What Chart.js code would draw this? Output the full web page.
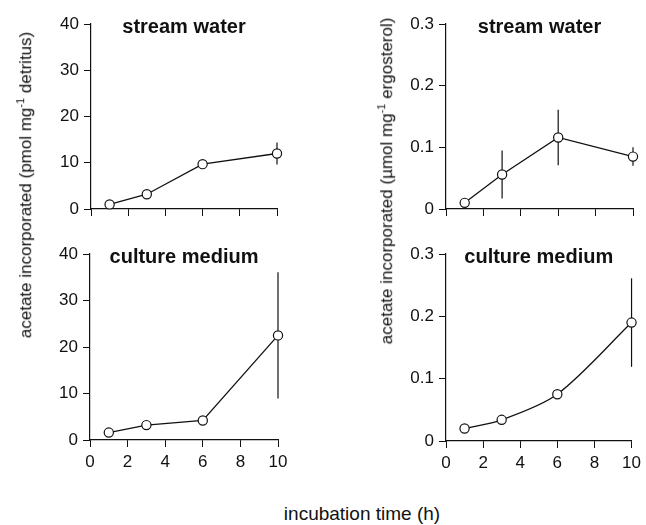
<!DOCTYPE html>
<html>
<head>
<meta charset="utf-8">
<script src="https://cdn.jsdelivr.net/npm/chart.js@4.4.1/dist/chart.umd.min.js"></script>
<style>
body { margin: 0; background: #fff; width: 646px; height: 525px; position: relative; overflow: hidden;
       font-family: "Liberation Sans", Arial, sans-serif; color: #111; }
canvas { position: absolute; }
.lbl { position: absolute; white-space: nowrap; transform: translate(-50%, -50%); z-index: 2; }
.rot { transform: translate(-50%, -50%) rotate(-90deg); }
sup { font-size: 11px; }
</style>
</head>
<body>
<canvas id="tl" width="300" height="230" style="left:0;top:0"></canvas>
<canvas id="tr" width="316" height="230" style="left:330px;top:0"></canvas>
<canvas id="bl" width="300" height="250" style="left:0;top:230px"></canvas>
<canvas id="br" width="316" height="250" style="left:330px;top:230px"></canvas>

<div class="lbl rot" style="left:25px;top:185px;font-size:17px">acetate incorporated (pmol mg<sup>-1</sup> detritus)</div>
<div class="lbl rot" style="left:386px;top:181px;font-size:17px">acetate incorporated (µmol mg<sup>-1</sup> ergosterol)</div>
<div class="lbl" style="left:362px;top:514px;font-size:19px">incubation time (h)</div>

<script>
// incubation times (h) and axis ticks
const times = [1, 3, 6, 10];
const xTicks = [0, 2, 4, 6, 8, 10];
const pmolTicks = [0, 10, 20, 30, 40];
const umolTicks = [0, 0.1, 0.2, 0.3];

// stream water
const streamDetritus = [1.0, 3.2, 9.7, 12.0];
const streamDetritusErr = [0, 0, 0, 2.4];
const streamErgosterol = [0.01, 0.056, 0.116, 0.085];
const streamErgosterolErr = [0, 0.039, 0.045, 0.015];

// culture medium
const cultureDetritus = [1.6, 3.2, 4.2, 22.5];
const cultureDetritusErr = [0, 0, 0, 13.6];
const cultureErgosterol = [0.02, 0.034, 0.075, 0.19];
const cultureErgosterolErr = [0, 0, 0, 0.071];

Chart.defaults.font.family = '"Liberation Sans", Arial, sans-serif';
Chart.defaults.font.size = 17;
Chart.defaults.color = '#111';

const errorBars = {
    id: 'errorBars',
    beforeDatasetsDraw(chart, args, opts) {
        const ctx = chart.ctx;
        const x = chart.scales.x, y = chart.scales.y;
        const data = chart.data.datasets[0].data;
        ctx.save();
        ctx.strokeStyle = '#111';
        ctx.lineWidth = 1.2;
        data.forEach((p, i) => {
            const e = opts.errors[i];
            if (!e) return;
            const px = x.getPixelForValue(p.x);
            ctx.beginPath();
            ctx.moveTo(px, y.getPixelForValue(p.y - e));
            ctx.lineTo(px, y.getPixelForValue(p.y + e));
            ctx.stroke();
        });
        ctx.restore();
    }
};

const panelTitle = {
    id: 'panelTitle',
    afterDraw(chart, args, opts) {
        const ctx = chart.ctx;
        const a = chart.chartArea;
        ctx.save();
        ctx.font = 'bold 20px "Liberation Sans", Arial, sans-serif';
        ctx.fillStyle = '#111';
        ctx.textAlign = 'center';
        ctx.textBaseline = 'alphabetic';
        ctx.fillText(opts.text, (a.left + a.right) / 2, a.top + 9);
        ctx.restore();
    }
};

function makePanel(id, title, values, errors, yTicks, showX, box, curved) {
    const axisGrid = { drawOnChartArea: false, drawTicks: true, tickLength: 7, color: '#111', lineWidth: 1 };
    return new Chart(document.getElementById(id), {
        type: 'line',
        data: {
            datasets: [{
                data: times.map((t, i) => ({ x: t, y: values[i] })),
                borderColor: '#111',
                borderWidth: 1.3,
                pointRadius: 4.6,
                pointBackgroundColor: '#fff',
                pointBorderColor: '#111',
                pointBorderWidth: 1.2,
                tension: curved ? 0.3 : 0,
                clip: false
            }]
        },
        options: {
            responsive: false,
            animation: false,
            events: [],
            layout: { padding: { left: 0, top: box.top, right: box.right, bottom: 0 } },
            plugins: {
                legend: { display: false },
                tooltip: { enabled: false },
                errorBars: { errors: errors },
                panelTitle: { text: title }
            },
            scales: {
                x: {
                    type: 'linear',
                    min: 0,
                    max: 10,
                    afterBuildTicks: s => { s.ticks = xTicks.map(v => ({ value: v })); },
                    afterFit: s => { s.height = box.xH; },
                    grid: axisGrid,
                    border: { display: true, color: '#111', width: 1.2 },
                    ticks: { display: showX, padding: 5, maxRotation: 0 }
                },
                y: {
                    type: 'linear',
                    min: yTicks[0],
                    max: yTicks[yTicks.length - 1],
                    afterBuildTicks: s => { s.ticks = yTicks.map(v => ({ value: v })); },
                    afterFit: s => { s.width = box.yW; },
                    grid: axisGrid,
                    border: { display: true, color: '#111', width: 1.2 },
                    ticks: { padding: 5 }
                }
            }
        },
        plugins: [errorBars, panelTitle]
    });
}

makePanel('tl', 'stream water', streamDetritus, streamDetritusErr, pmolTicks, false,
    { yW: 91, top: 24, right: 23, xH: 21 }, false);
makePanel('tr', 'stream water', streamErgosterol, streamErgosterolErr, umolTicks, false,
    { yW: 116, top: 24, right: 13, xH: 21 }, false);
makePanel('bl', 'culture medium', cultureDetritus, cultureDetritusErr, pmolTicks, true,
    { yW: 90, top: 24, right: 22, xH: 40 }, false);
makePanel('br', 'culture medium', cultureErgosterol, cultureErgosterolErr, umolTicks, true,
    { yW: 116, top: 24, right: 13, xH: 39 }, true);
</script>
</body>
</html>
